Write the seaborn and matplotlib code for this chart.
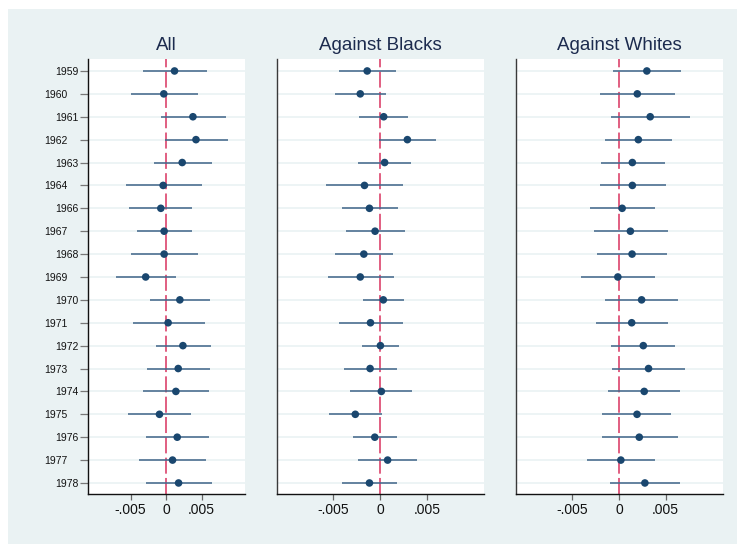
import numpy as np
import pandas as pd
import matplotlib
matplotlib.use("Agg")
import matplotlib.pyplot as plt
from matplotlib.patches import Rectangle
from matplotlib.transforms import ScaledTranslation
import seaborn as sns

# Year dummies (1965 omitted as the reference year)
years = [1959, 1960, 1961, 1962, 1963, 1964, 1966, 1967, 1968, 1969,
         1970, 1971, 1972, 1973, 1974, 1975, 1976, 1977, 1978]

panel_titles = ["All", "Against Blacks", "Against Whites"]

all_coef = [0.00118, -0.00033, 0.00377, 0.00420, 0.00226, -0.00042, -0.00075, -0.00028, -0.00028, -0.00288,
            0.00193, 0.00028, 0.00236, 0.00170, 0.00137, -0.00094, 0.00156, 0.00090, 0.00175]
all_lo = [-0.00330, -0.00500, -0.00071, -0.00019, -0.00175, -0.00570, -0.00520, -0.00410, -0.00490, -0.00703,
          -0.00231, -0.00470, -0.00146, -0.00274, -0.00320, -0.00530, -0.00288, -0.00380, -0.00288]
all_hi = [0.00575, 0.00443, 0.00840, 0.00868, 0.00640, 0.00500, 0.00370, 0.00363, 0.00443, 0.00142,
          0.00618, 0.00540, 0.00627, 0.00618, 0.00610, 0.00350, 0.00604, 0.00560, 0.00646]

blacks_coef = [-0.00137, -0.00211, 0.00039, 0.00292, 0.00049, -0.00166, -0.00113, -0.00053, -0.00173, -0.00211,
               0.00035, -0.00102, 0.00004, -0.00106, 0.00014, -0.00264, -0.00056, 0.00081, -0.00113]
blacks_lo = [-0.00440, -0.00482, -0.00225, -0.00007, -0.00240, -0.00577, -0.00408, -0.00366, -0.00479, -0.00556,
             -0.00183, -0.00440, -0.00190, -0.00384, -0.00317, -0.00549, -0.00285, -0.00232, -0.00401]
blacks_hi = [0.00173, 0.00060, 0.00303, 0.00599, 0.00335, 0.00243, 0.00190, 0.00271, 0.00137, 0.00148,
             0.00254, 0.00240, 0.00200, 0.00180, 0.00342, 0.00018, 0.00180, 0.00394, 0.00180]

whites_coef = [0.00299, 0.00197, 0.00335, 0.00208, 0.00144, 0.00144, 0.00035, 0.00123, 0.00141, -0.00011,
               0.00243, 0.00137, 0.00261, 0.00317, 0.00271, 0.00194, 0.00218, 0.00021, 0.00278]
whites_lo = [-0.00067, -0.00204, -0.00085, -0.00144, -0.00194, -0.00204, -0.00313, -0.00271, -0.00229, -0.00401,
             -0.00148, -0.00250, -0.00081, -0.00077, -0.00120, -0.00176, -0.00183, -0.00342, -0.00099]
whites_hi = [0.00662, 0.00602, 0.00757, 0.00567, 0.00496, 0.00500, 0.00387, 0.00528, 0.00518, 0.00384,
             0.00637, 0.00525, 0.00602, 0.00711, 0.00658, 0.00560, 0.00627, 0.00387, 0.00655]

x_ticks = [-0.005, 0, 0.005]
x_tick_labels = ["-.005", "0", ".005"]

frames = []
for title, c, lo, hi in zip(panel_titles,
                            [all_coef, blacks_coef, whites_coef],
                            [all_lo, blacks_lo, whites_lo],
                            [all_hi, blacks_hi, whites_hi]):
    frames.append(pd.DataFrame({"panel": title, "year": years, "row": np.arange(len(years)),
                                "coef": c, "lo": lo, "hi": hi}))
df = pd.concat(frames, ignore_index=True)

sns.set_theme(style="white")
plt.rcParams["font.family"] = ["Liberation Sans", "DejaVu Sans"]

BG = "#eaf2f3"
NAVY = "#1a476f"
CI_COLOR = "#46698c"
RED = "#d8335f"

fig = plt.figure(figsize=(7.37, 5.44), dpi=100, facecolor="white")
fig.patches.append(Rectangle((8 / 737, 0), 1, (544 - 9) / 544, transform=fig.transFigure,
                             facecolor=BG, edgecolor="none", zorder=-10))

W, H = 737, 544
top_px, bot_px = 59.3, 493.5
boxes = [(88, 245), (277, 484), (516, 722.7)]

for i, (title, (x0, x1)) in enumerate(zip(panel_titles, boxes)):
    ax = fig.add_axes([x0 / W, (H - bot_px) / H, (x1 - x0) / W, (bot_px - top_px) / H])
    ax.set_facecolor("white")
    sub = df[df["panel"] == title]

    # horizontal row guides
    for r in sub["row"]:
        ax.axhline(r, color=BG, lw=1.2, zorder=0)

    ax.axvline(0, color=RED, lw=1.1, dashes=(10.5, 2.8), zorder=1)
    ax.hlines(sub["row"], sub["lo"], sub["hi"], color=CI_COLOR, lw=1.15, zorder=2)
    sns.scatterplot(data=sub, x="coef", y="row", ax=ax, s=30, color=NAVY,
                    edgecolor="none", linewidth=0, zorder=3, legend=False)

    ax.set_xlim(-0.0110, 0.0111)
    ax.set_ylim(18.46, -0.51)
    ax.set_xlabel("")
    ax.set_ylabel("")
    ax.set_title(title, fontsize=13.5, color="#1c2b4e", pad=7)

    ax.set_xticks(x_ticks)
    ax.set_xticklabels(x_tick_labels, fontsize=10, color="#111111")
    ax.tick_params(axis="x", direction="out", length=4.5, width=0.9, color="#666666",
                   pad=2, bottom=True)

    for side in ["top", "right"]:
        ax.spines[side].set_visible(False)
    ax.spines["bottom"].set_color("#111111")
    ax.spines["bottom"].set_linewidth(1.0)
    ax.spines["left"].set_color("#111111" if i == 0 else "#3a3a3a")
    ax.spines["left"].set_linewidth(1.0)

    ax.set_yticks(sub["row"])
    if i == 0:
        ax.set_yticklabels([str(y) for y in years], fontsize=7.5, color="#111111")
        ax.tick_params(axis="y", direction="out", length=5.5, width=0.9, color="#777777",
                       pad=1.2, left=True)
        shift = ScaledTranslation(-11 / 100, 0, fig.dpi_scale_trans)
        for k, lab in enumerate(ax.get_yticklabels()):
            if k % 2 == 1:
                lab.set_transform(lab.get_transform() + shift)
    else:
        ax.set_yticklabels([])
        ax.tick_params(axis="y", left=False, length=0)

fig.savefig("out.png", dpi=100, facecolor=fig.get_facecolor())
